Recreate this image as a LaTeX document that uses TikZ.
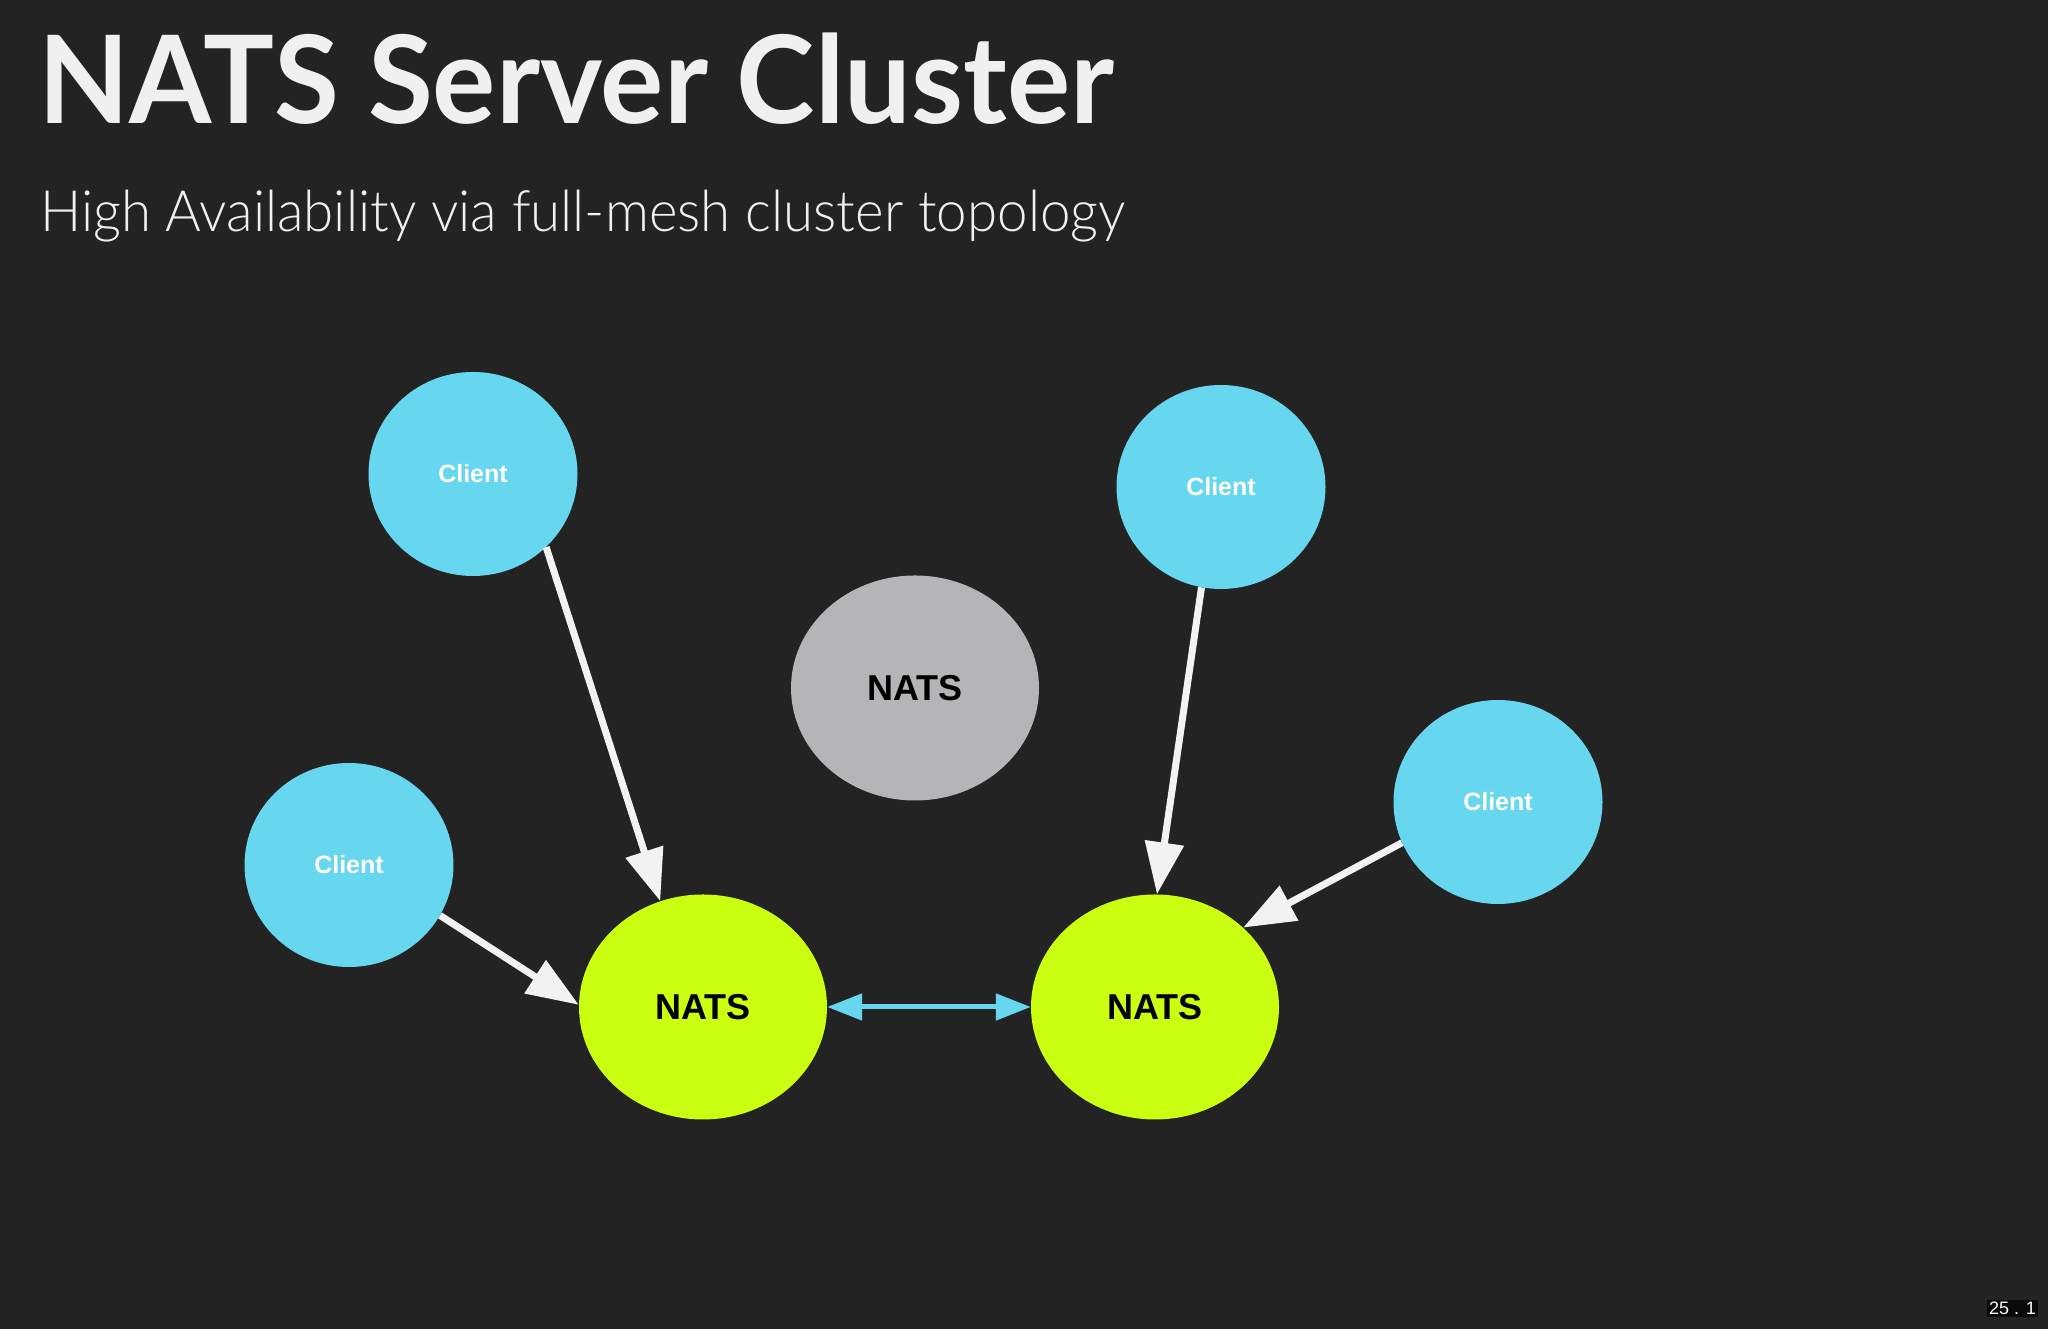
\documentclass[tikz,border=0pt]{standalone}
\usepackage{fontspec}
\usepackage{graphicx}
\usetikzlibrary{shapes.geometric,arrows.meta}
\setmainfont{Lato}
\newfontfamily\latolight{Lato Light}
\newfontfamily\helv{Liberation Sans}
\definecolor{bg}{HTML}{232324}
\definecolor{clientc}{HTML}{66D7EF}
\definecolor{natsg}{HTML}{CAFF12}
\definecolor{natsgray}{HTML}{B5B4B7}
\definecolor{arrw}{HTML}{F2F2F3}
\definecolor{ttl}{HTML}{F0F0F0}
\tikzset{
  client/.style={ellipse, fill=clientc, minimum width=209pt, minimum height=204pt, inner sep=0pt,
    text=white, font=\helv\bfseries\fontsize{25}{25}\selectfont},
  nats/.style={ellipse, fill=natsg, minimum width=248pt, minimum height=225pt, inner sep=0pt,
    text=black, font=\helv\bfseries\fontsize{36}{36}\selectfont},
  natsoff/.style={nats, fill=natsgray},
  flow/.style={draw=arrw, line width=7pt, -{Triangle[length=52pt,width=38pt]}},
  mesh/.style={draw=clientc, line width=5pt, {Triangle[length=35pt,width=26pt]}-{Triangle[length=35pt,width=26pt]}}
}
\begin{document}
\begin{tikzpicture}[x=1pt,y=1pt]
\fill[bg] (0,0) rectangle (2048,1329);
\useasboundingbox (0,0) rectangle (2048,1329);
\node[anchor=base west, inner sep=0pt, text=ttl, font=\bfseries\fontsize{122}{122}\selectfont] (title) at (38,1205) {\resizebox{1076pt}{\height}{NATS Server Cluster}};
\node[anchor=base west, inner sep=0pt, text=ttl, font=\latolight\fontsize{57}{57}\selectfont] (sub) at (40,1097) {\resizebox{1085pt}{\height}{High Availability via full-mesh cluster topology}};

\node[client] (c1) at (473,855) {Client};
\node[client] (c2) at (1221,842) {Client};
\node[client] (c3) at (349,464) {Client};
\node[client] (c4) at (1498,527) {Client};
\node[natsoff] (n0) at (915,641) {NATS};
\node[nats] (nl) at (703,322) {NATS};
\node[nats] (nr) at (1155,322) {NATS};

\draw[flow] (c1.-45.5) -- (nl.112);
\draw[flow] (c3.-29.7) -- (nl.179.4);
\draw[flow] (c2.-101.7) -- (nr.89.3);
\draw[flow] (c4.-157.3) -- (nr.42.4);
\draw[mesh] (nl.east) -- (nr.west);

\node[fill=black!70!bg, text=white, inner sep=2pt, font=\helv\fontsize{18}{18}\selectfont, anchor=south east] (pg) at (2038,12) {25 . 1};
\end{tikzpicture}
\end{document}
